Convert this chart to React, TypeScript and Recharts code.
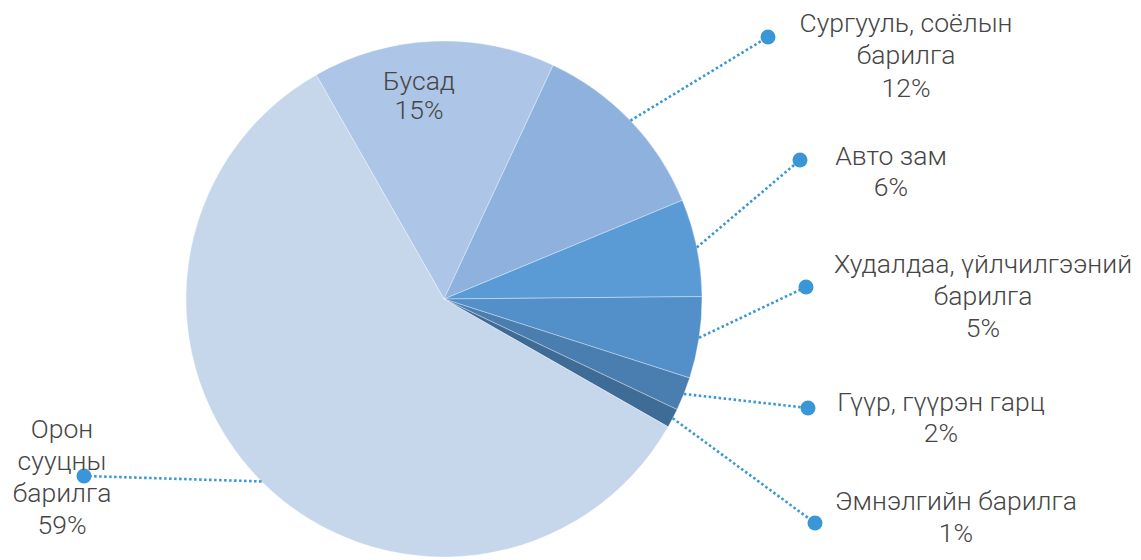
import { PieChart, Pie, Cell } from 'recharts';

const categories = [
  ['Бусад'],
  ['Сургууль, соёлын', 'барилга'],
  ['Авто зам'],
  ['Худалдаа, үйлчилгээний', 'барилга'],
  ['Гүүр, гүүрэн гарц'],
  ['Эмнэлгийн барилга'],
  ['Орон', 'сууцны', 'барилга'],
];
const shares = [15.2, 11.8, 6.1, 5.1, 2.1, 1.2, 58.5];
const colors = ['#adc5e6', '#8eb2dd', '#5b9bd5', '#538fc8', '#4a7db0', '#3f6b97', '#c6d7ec'];

// where each label sits (dot end of the leader line, text block centre, first line y)
const labelLayout = [
  { dot: null, tx: 419, ty: 80, gap: 29 },
  { dot: [768, 37], tx: 906, ty: 22, gap: 32.5 },
  { dot: [800, 160], tx: 891, ty: 155, gap: 31.5 },
  { dot: [806, 287], tx: 983, ty: 263, gap: 32 },
  { dot: [808, 408], tx: 941, ty: 401, gap: 31.5 },
  { dot: [815, 523], tx: 956, ty: 500, gap: 32 },
  { dot: [84, 476], tx: 62, ty: 428, gap: 32 },
];

const data = categories.map((lines, i) => ({ name: lines.join(' '), lines, value: shares[i] }));

const RAD = Math.PI / 180;

function SliceLabel(props: any) {
  const { cx, cy, midAngle, outerRadius, index, value } = props;
  const lay = labelLayout[index];
  const lines = [...data[index].lines, `${Math.round(value)}%`];
  let leader = null;
  if (lay.dot) {
    const sx = cx + outerRadius * Math.cos(-midAngle * RAD);
    const sy = cy + outerRadius * Math.sin(-midAngle * RAD);
    leader = (
      <g>
        <line x1={sx} y1={sy} x2={lay.dot[0]} y2={lay.dot[1]} stroke="#3a96d6" strokeWidth={2.6} strokeDasharray="2.5 2.5" />
        <circle cx={lay.dot[0]} cy={lay.dot[1]} r={7.5} fill="#3a96d6" />
      </g>
    );
  }
  return (
    <g>
      {leader}
      {lines.map((t, k) => (
        <text key={k} x={lay.tx} y={lay.ty + k * lay.gap} textAnchor="middle" dominantBaseline="central"
          fill="#454545" fontSize={26.5} fontWeight={300} fontFamily="Roboto, sans-serif">
          {t}
        </text>
      ))}
    </g>
  );
}

export default function App() {
  return (
    <div style={{ position: 'absolute', left: 0, top: 0, background: '#fff' }}>
      <PieChart width={1141} height={560} margin={{ top: 0, right: 0, bottom: 0, left: 0 }}>
        <Pie
          data={data}
          dataKey="value"
          cx={444}
          cy={299}
          outerRadius={258}
          startAngle={119.7}
          endAngle={119.7 - 360}
          stroke="rgba(255,255,255,0.35)"
          strokeWidth={1}
          label={SliceLabel}
          labelLine={false}
          isAnimationActive={false}
        >
          {data.map((d, i) => (
            <Cell key={d.name} fill={colors[i]} />
          ))}
        </Pie>
      </PieChart>
    </div>
  );
}
